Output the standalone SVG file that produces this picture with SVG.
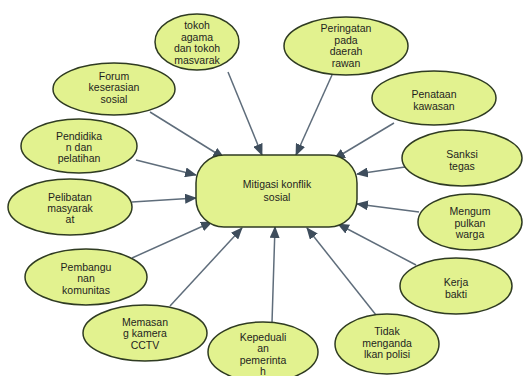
<svg xmlns="http://www.w3.org/2000/svg" width="523" height="376" viewBox="0 0 523 376">
<style>
.n{fill:#e2f28f;stroke:#2f3b22;stroke-width:1.5}
.t{font-family:"Liberation Sans",Arial,sans-serif;font-size:10.5px;fill:#1e1e1e;text-anchor:middle}
.c{stroke:#5f6d7b;stroke-width:1.5;fill:none;marker-end:url(#ah)}
</style>
<defs>
<marker id="ah" markerUnits="userSpaceOnUse" markerWidth="12" markerHeight="10" refX="11" refY="5" orient="auto">
<path d="M0,0 L12,5 L0,10 Z" fill="#3e4d5c"/>
</marker>
</defs>
<rect width="523" height="376" fill="#ffffff"/>
<g id="connectors">
<line class="c" x1="228" y1="72" x2="262" y2="155"/>
<line class="c" x1="150" y1="112" x2="224" y2="158"/>
<line class="c" x1="136" y1="160" x2="196" y2="175"/>
<line class="c" x1="332" y1="75" x2="296" y2="155"/>
<line class="c" x1="394" y1="123" x2="334" y2="159"/>
<line class="c" x1="405" y1="167" x2="357" y2="174"/>
<line class="c" x1="132" y1="202" x2="196" y2="198"/>
<line class="c" x1="132" y1="258" x2="212" y2="222"/>
<line class="c" x1="170" y1="306" x2="242" y2="228"/>
<line class="c" x1="272" y1="323" x2="275" y2="227"/>
<line class="c" x1="376" y1="315" x2="307" y2="228"/>
<line class="c" x1="416" y1="265" x2="338" y2="224"/>
<line class="c" x1="419" y1="212" x2="357" y2="204"/>
</g>
<g id="center">
<rect class="n" x="196" y="155" width="161" height="72" rx="28" ry="28"/>
<text class="t" x="277" y="188">Mitigasi konflik</text>
<text class="t" x="277" y="201">sosial</text>
</g>
<g id="tokoh">
<ellipse class="n" cx="197" cy="42" rx="42" ry="28"/>
<text class="t" x="197" y="29">tokoh</text>
<text class="t" x="197" y="41">agama</text>
<text class="t" x="197" y="52">dan tokoh</text>
<text class="t" x="197" y="64">masvarak</text>
</g>
<g id="peringatan">
<ellipse class="n" cx="346" cy="46" rx="62" ry="29"/>
<text class="t" x="346" y="32">Peringatan</text>
<text class="t" x="346" y="44">pada</text>
<text class="t" x="346" y="55">daerah</text>
<text class="t" x="346" y="67">rawan</text>
</g>
<g id="penataan">
<ellipse class="n" cx="434" cy="98" rx="62" ry="27"/>
<text class="t" x="434" y="98">Penataan</text>
<text class="t" x="434" y="110">kawasan</text>
</g>
<g id="sanksi">
<ellipse class="n" cx="462" cy="158" rx="60" ry="28"/>
<text class="t" x="462" y="158">Sanksi</text>
<text class="t" x="462" y="170">tegas</text>
</g>
<g id="mengumpulkan">
<ellipse class="n" cx="470" cy="222" rx="52" ry="28"/>
<text class="t" x="470" y="215">Mengum</text>
<text class="t" x="470" y="227">pulkan</text>
<text class="t" x="470" y="238">warga</text>
</g>
<g id="kerja">
<ellipse class="n" cx="456" cy="286" rx="56" ry="28"/>
<text class="t" x="456" y="286">Kerja</text>
<text class="t" x="456" y="298">bakti</text>
</g>
<g id="tidak">
<ellipse class="n" cx="387" cy="344" rx="52" ry="30"/>
<text class="t" x="387" y="335">Tidak</text>
<text class="t" x="387" y="347">menganda</text>
<text class="t" x="387" y="358">lkan polisi</text>
</g>
<g id="kepedulian">
<ellipse class="n" cx="263" cy="352" rx="55" ry="30"/>
<text class="t" x="263" y="341">Kepeduali</text>
<text class="t" x="263" y="352">an</text>
<text class="t" x="263" y="364">pemerinta</text>
<text class="t" x="263" y="375">h</text>
</g>
<g id="memasang">
<ellipse class="n" cx="145" cy="333" rx="62" ry="28"/>
<text class="t" x="145" y="326">Memasan</text>
<text class="t" x="145" y="337">g kamera</text>
<text class="t" x="145" y="349">CCTV</text>
</g>
<g id="pembangunan">
<ellipse class="n" cx="86" cy="277" rx="61" ry="28"/>
<text class="t" x="86" y="271">Pembangu</text>
<text class="t" x="86" y="282">nan</text>
<text class="t" x="86" y="294">komunitas</text>
</g>
<g id="pelibatan">
<ellipse class="n" cx="70" cy="207" rx="62" ry="28"/>
<text class="t" x="70" y="201">Pelibatan</text>
<text class="t" x="70" y="212">masyarak</text>
<text class="t" x="70" y="223">at</text>
</g>
<g id="pendidikan">
<ellipse class="n" cx="79" cy="146" rx="58" ry="27"/>
<text class="t" x="79" y="140">Pendidika</text>
<text class="t" x="79" y="151">n dan</text>
<text class="t" x="79" y="162">pelatihan</text>
</g>
<g id="forum">
<ellipse class="n" cx="114" cy="89" rx="61" ry="26"/>
<text class="t" x="114" y="80">Forum</text>
<text class="t" x="114" y="91">keserasian</text>
<text class="t" x="114" y="103">sosial</text>
</g>
</svg>
